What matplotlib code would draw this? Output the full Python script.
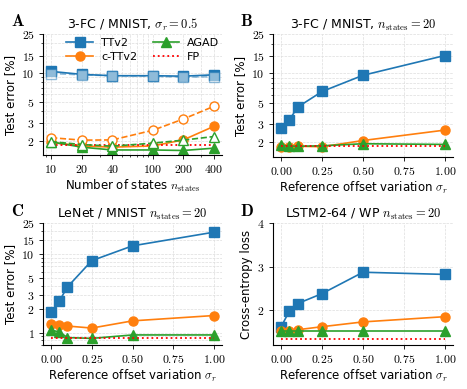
import matplotlib
matplotlib.use('Agg')
import matplotlib.pyplot as plt
from matplotlib.ticker import FixedLocator, FuncFormatter, NullFormatter

plt.rcParams['mathtext.fontset'] = 'cm'
plt.rcParams['font.family'] = ['DejaVu Sans']

# panel A: number of states
n_states = [10, 20, 40, 100, 200, 400]
a_ttv2 = [10.3, 9.6, 9.3, 9.3, 9.2, 9.5]
a_ttv2_open = [9.8, 9.5, 9.3, 9.2, 9.0, 9.1]
a_cttv2 = [1.91, 1.76, 1.71, 1.76, 2.03, 2.8]
a_cttv2_open = [2.14, 2.02, 2.03, 2.55, 3.33, 4.5]
a_agad = [1.94, 1.71, 1.6, 1.6, 1.58, 1.67]
a_agad_open = [1.95, 1.82, 1.75, 1.88, 2.02, 2.2]
a_fp = 1.79

# panels B-D: reference offset variation
sigma = [0.0, 0.05, 0.1, 0.25, 0.5, 1.0]
b_ttv2 = [2.74, 3.33, 4.5, 6.5, 9.5, 15.1]
b_cttv2 = [1.76, 1.76, 1.80, 1.78, 2.06, 2.63]
b_agad = [1.84, 1.81, 1.8, 1.82, 1.91, 1.88]
b_fp = 1.8

c_ttv2 = [1.82, 2.54, 3.83, 8.3, 12.8, 19.1]
c_cttv2 = [1.28, 1.24, 1.22, 1.15, 1.42, 1.66]
c_agad = [1.08, 1.03, 0.87, 0.85, 0.94, 0.94]
c_fp = 0.85

d_ttv2 = [1.62, 1.98, 2.15, 2.38, 2.87, 2.82]
d_cttv2 = [1.51, 1.52, 1.55, 1.62, 1.73, 1.85]
d_agad = [1.52, 1.52, 1.52, 1.52, 1.52, 1.52]
d_fp = 1.34

blue, orange, green, red = '#1f77b4', '#ff7f0e', '#2ca02c', 'red'

fig = plt.figure(figsize=(4.67, 3.89), dpi=100)
W, H = 467, 389
def add_ax(l, t, r, b):
    return fig.add_axes([l / W, 1 - b / H, (r - l) / W, (b - t) / H])

axA = add_ax(43, 34, 222, 155)
axB = add_ax(273, 34, 453, 157)
axC = add_ax(43, 223, 222, 345)
axD = add_ax(273, 223, 453, 345)

mfmt = FuncFormatter(lambda v, p: '$%g$' % v)
mfmt2 = FuncFormatter(lambda v, p: '$%.2f$' % v)

def style(ax):
    for s in ['top', 'right']:
        ax.spines[s].set_visible(False)
    ax.grid(True, which='both', ls='--', lw=0.5, color='#dddddd')
    ax.tick_params(labelsize=8.5, length=3, width=0.6, pad=3)
    ax.tick_params(which='minor', length=1.5, width=0.5)
    ax.set_axisbelow(True)

def plot_set(ax, x, tt, ct, ag, fp, ms=6.5):
    ax.plot(x, tt, '-s', color=blue, ms=ms, lw=1.2, label='TTv2')
    ax.plot(x, ct, '-o', color=orange, ms=ms, lw=1.2, label='c-TTv2')
    ax.plot(x, ag, '-^', color=green, ms=ms, lw=1.2, label='AGAD')
    ax.plot([x[0], x[-1]], [fp, fp], ':', color=red, lw=1.3, label='FP')

# A
ax = axA
plot_set(ax, n_states, a_ttv2, a_cttv2, a_agad, a_fp)
ax.plot(n_states, a_ttv2_open, '--s', color=blue, mfc='white', ms=6.5, lw=1.2, alpha=0.5)
ax.plot(n_states, a_cttv2_open, '--o', color=orange, mfc='white', ms=6.5, lw=1.2)
ax.plot(n_states, a_agad_open, '--^', color=green, mfc='white', ms=6.5, lw=1.2)
ax.set_xscale('log')
ax.set_yscale('log')
ax.set_ylim(1.42, 25)
ax.xaxis.set_major_locator(FixedLocator(n_states))
ax.xaxis.set_major_formatter(mfmt)
ax.xaxis.set_minor_formatter(NullFormatter())
ax.set_xlabel(r'Number of states $n_\mathrm{states}$', fontsize=8.5, labelpad=1)
ax.set_title(r'3-FC / MNIST, $\sigma_r = 0.5$', fontsize=9, pad=4)
ax.legend(ncol=2, loc='upper right', frameon=False, fontsize=8,
          bbox_to_anchor=(1.04, 1.05), handlelength=2.4, columnspacing=1.4,
          labelspacing=0.35, handletextpad=0.7)

# B
ax = axB
plot_set(ax, sigma, b_ttv2, b_cttv2, b_agad, b_fp)
ax.set_yscale('log')
ax.set_ylim(1.4, 25)
ax.set_title(r'3-FC / MNIST, $n_\mathrm{states} = 20$', fontsize=9, pad=4)

# C
ax = axC
plot_set(ax, sigma, c_ttv2, c_cttv2, c_agad, c_fp)
ax.set_yscale('log')
ax.set_ylim(0.7, 25)
ax.set_title(r'LeNet / MNIST $n_\mathrm{states} = 20$', fontsize=9, pad=4)

# D
ax = axD
plot_set(ax, sigma, d_ttv2, d_cttv2, d_agad, d_fp)
ax.set_ylim(1.2, 4)
ax.set_yticks([2, 3, 4])
ax.set_ylabel('Cross-entropy loss', fontsize=8.5, labelpad=3)
ax.set_title(r'LSTM2-64 / WP $n_\mathrm{states} = 20$', fontsize=9, pad=4)

for ax in [axA, axB, axC]:
    ticks = [2, 3, 5, 10, 15, 25] if ax is not axC else [1, 2, 3, 5, 10, 15, 25]
    ax.yaxis.set_major_locator(FixedLocator(ticks))
    ax.yaxis.set_major_formatter(mfmt)
    ax.yaxis.set_minor_formatter(NullFormatter())
    ax.set_ylabel('Test error [%]', fontsize=8.5, labelpad=3)

axD.yaxis.set_major_formatter(mfmt)
for ax in [axB, axC, axD]:
    ax.set_xticks([0, 0.25, 0.5, 0.75, 1.0])
    ax.xaxis.set_major_formatter(mfmt2)
    ax.set_xlabel(r'Reference offset variation $\sigma_r$', fontsize=8.5, labelpad=1)

for ax in [axA, axB, axC, axD]:
    style(ax)

for (x, y), letter in zip([(11, 12), (240, 12), (11, 202), (240, 202)], 'ABCD'):
    fig.text(x / W, 1 - y / H, r'$\mathbf{%s}$' % letter, fontsize=12,
             va='top', ha='left')

fig.savefig('out.png', dpi=100)
